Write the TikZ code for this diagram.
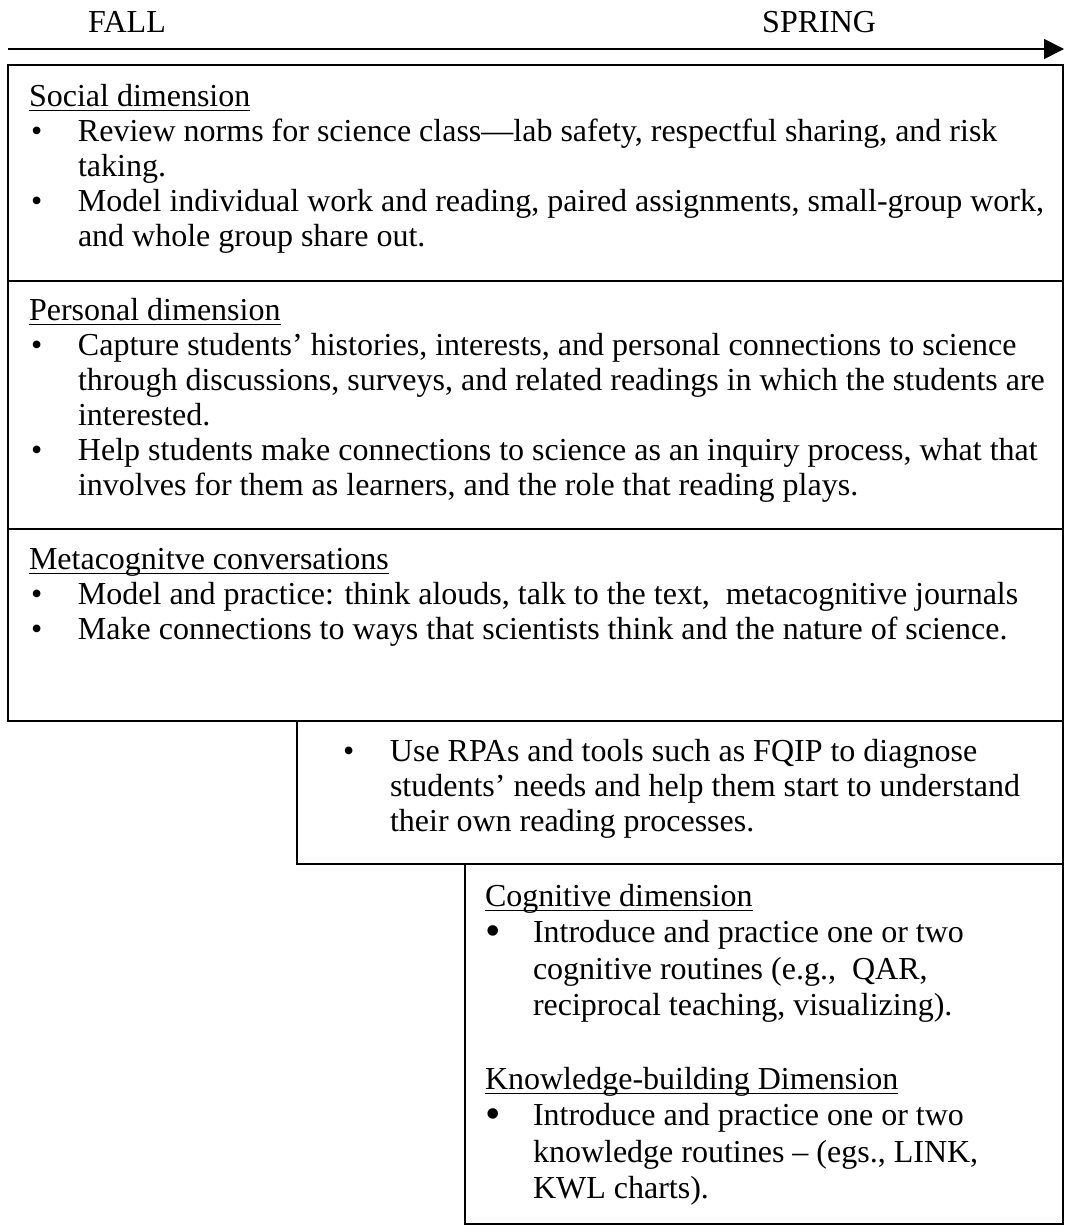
\documentclass[tikz,border=0pt]{standalone}
\usepackage{fontspec}
\setmainfont{Liberation Serif}
\usetikzlibrary{arrows.meta}
\newsavebox{\ulbox}
\newcommand{\Ul}[1]{\sbox{\ulbox}{#1}\rlap{\rule[-5.2pt]{\wd\ulbox}{1.6pt}}\usebox{\ulbox}}
\newcommand{\Ls}{\rule[-9pt]{0pt}{35pt}}
\newcommand{\Lc}{\rule[-9.6pt]{0pt}{36.6pt}}
\newcommand{\Bu}{\hspace*{2pt}\makebox[47pt][l]{\textbullet}}
\newcommand{\Bb}{\makebox[48pt][l]{\raisebox{-3pt}{\fontsize{44}{36}\selectfont\textbullet}}}
\newcommand{\Ind}{\hspace*{49pt}}
\newcommand{\Inc}{\hspace*{48pt}}
\tikzset{
  box/.style={draw, line width=1.6pt, inner sep=0pt, outer sep=0pt, anchor=north west},
  txt/.style={anchor=north west, inner sep=0pt, outer sep=0pt, align=left,
              font=\fontsize{32}{35}\selectfont},
  txtc/.style={anchor=north west, inner sep=0pt, outer sep=0pt, align=left,
              font=\fontsize{32}{36.6}\selectfont},
  lbl/.style={anchor=base west, inner sep=0pt, font=\fontsize{32}{35}\selectfont},
  timeline/.style={line width=1.6pt, -{Triangle[length=20pt,width=20pt]}}
}
\begin{document}
\begin{tikzpicture}[x=1pt,y=-1pt]
\useasboundingbox (0,0) rectangle (1066,1226);
% timeline
\node[lbl] (fall) at (88,32) {FALL};
\node[lbl] (spring) at (762,32) {SPRING};
\coordinate (tlstart) at (8,49);
\coordinate (tlend) at (1064,49);
\draw[timeline] (tlstart) -- (tlend);
% boxes
\node[box, minimum width=1055pt, minimum height=216pt] (socbox) at (8,65) {};
\node[box, minimum width=1055pt, minimum height=248pt] (perbox) at (8,281) {};
\node[box, minimum width=1055pt, minimum height=192pt] (metbox) at (8,529) {};
\node[box, minimum width=766pt, minimum height=143pt] (rpabox) at (297,721) {};
\node[box, minimum width=598pt, minimum height=360pt] (cogbox) at (465,864) {};
% texts
\node[txt] (soctxt) at (29,80) {%
\Ls\Ul{Social dimension}\\
\Ls\Bu Review norms for science class—lab safety, respectful sharing, and risk\\
\Ls\Ind taking.\\
\Ls\Bu Model individual work and reading, paired assignments, small-group work,\\
\Ls\Ind and whole group share out.};
\node[txt] (pertxt) at (29,294) {%
\Ls\Ul{Personal dimension}\\
\Ls\Bu Capture students’ histories, interests, and personal connections to science\\
\Ls\Ind through discussions, surveys, and related readings in which the students are\\
\Ls\Ind interested.\\
\Ls\Bu Help students make connections to science as an inquiry process, what that\\
\Ls\Ind involves for them as learners, and the role that reading plays.};
\node[txt] (mettxt) at (29,543) {%
\Ls\Ul{Metacognitve conversations}\\
\Ls\Bu Model and practice: think alouds, talk to the text,\ \ metacognitive journals\\
\Ls\Bu Make connections to ways that scientists think and the nature of science.};
\node[txt] (rpatxt) at (341,735) {%
\Ls\Bu Use RPAs and tools such as FQIP to diagnose\\
\Ls\Ind students’ needs and help them start to understand\\
\Ls\Ind their own reading processes.};
\node[txtc] (cogtxt) at (485,879) {%
\Lc\Ul{Cognitive dimension}\\
\Lc\Bb Introduce and practice one or two\\
\Lc\Inc cognitive routines (e.g.,\ \ QAR,\\
\Lc\Inc reciprocal teaching, visualizing).\\
\Lc\\
\Lc\Ul{Knowledge-building Dimension}\\
\Lc\Bb Introduce and practice one or two\\
\Lc\Inc knowledge routines – (egs., LINK,\\
\Lc\Inc KWL charts).};
\end{tikzpicture}
\end{document}
